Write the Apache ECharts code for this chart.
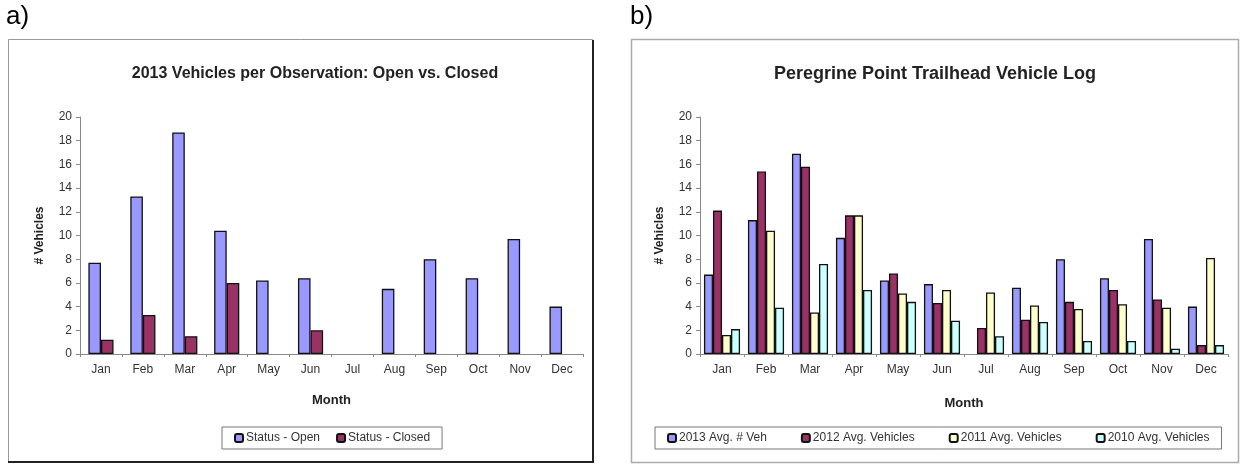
<!DOCTYPE html>
<html>
<head>
<meta charset="utf-8">
<script src="https://cdn.jsdelivr.net/npm/echarts@6/dist/echarts.min.js"></script>
<style>
  html, body { margin: 0; padding: 0; background: #fff; }
  #chart { width: 1240px; height: 464px; }
</style>
</head>
<body>
<div id="chart"></div>
<script>
var myChart = echarts.init(document.getElementById('chart'));

// months on both panels
var months = ['Jan', 'Feb', 'Mar', 'Apr', 'May', 'Jun', 'Jul', 'Aug', 'Sep', 'Oct', 'Nov', 'Dec'];

// a) 2013 open vs closed
var statusOpen = [7.7, 13.3, 18.7, 10.4, 6.2, 6.4, null, 5.5, 8.0, 6.4, 9.7, 4.0];
var statusClosed = [1.2, 3.3, 1.5, 6.0, null, 2.0, null, null, null, null, null, null];

// b) trailhead log by year
var avg2013 = [6.7, 11.3, 16.9, 9.8, 6.2, 5.9, null, 5.6, 8.0, 6.4, 9.7, 4.0];
var avg2012 = [12.1, 15.4, 15.8, 11.7, 6.8, 4.3, 2.2, 2.9, 4.4, 5.4, 4.6, 0.75];
var avg2011 = [1.6, 10.4, 3.5, 11.7, 5.1, 5.4, 5.2, 4.1, 3.8, 4.2, 3.9, 8.1];
var avg2010 = [2.1, 3.9, 7.6, 5.4, 4.4, 2.8, 1.5, 2.7, 1.1, 1.1, 0.45, 0.75];

var yTicks = { min: 0, max: 20, interval: 2 };

var font = 'Liberation Sans, Arial, sans-serif';

function valueAxis(idx) {
    return {
        gridIndex: idx,
        type: 'value',
        min: yTicks.min,
        max: yTicks.max,
        interval: yTicks.interval,
        name: '# Vehicles',
        nameLocation: 'middle',
        nameRotate: 90,
        nameGap: 34,
        nameTextStyle: { fontFamily: font, fontSize: 12, fontWeight: 'bold', color: '#222' },
        axisLine: { show: true, lineStyle: { color: '#888' } },
        axisTick: { show: true, length: 4, lineStyle: { color: '#888' } },
        axisLabel: { fontFamily: font, fontSize: 12, color: '#333', margin: 8 },
        splitLine: { show: false }
    };
}

function catAxis(idx) {
    return {
        gridIndex: idx,
        type: 'category',
        data: months,
        name: 'Month',
        nameLocation: 'middle',
        nameGap: idx === 0 ? 40 : 43,
        nameTextStyle: { fontFamily: font, fontSize: 13, fontWeight: 'bold', color: '#222' },
        axisLine: { lineStyle: { color: '#888' } },
        axisTick: { show: true, length: 3, lineStyle: { color: '#888' } },
        axisLabel: { fontFamily: font, fontSize: 12, color: '#333', margin: 10 }
    };
}

function barSeries(name, data, color, idx, catGap) {
    return {
        name: name,
        type: 'bar',
        xAxisIndex: idx,
        yAxisIndex: idx,
        data: data,
        barGap: '0%',
        barCategoryGap: catGap,
        itemStyle: { color: color, borderColor: '#111', borderWidth: 1.3 }
    };
}

myChart.setOption({
    animation: false,
    backgroundColor: '#fff',
    title: [
        {
            text: '2013 Vehicles per Observation: Open vs. Closed',
            left: 310, top: 61, textAlign: 'center',
            textStyle: { fontFamily: font, fontSize: 16, fontWeight: 'bold', color: '#222' }
        },
        {
            text: 'Peregrine Point Trailhead Vehicle Log',
            left: 930, top: 60, textAlign: 'center',
            textStyle: { fontFamily: font, fontSize: 18, fontWeight: 'bold', color: '#222' }
        }
    ],
    graphic: [
        { type: 'text', left: 6, top: 4, style: { text: 'a)', font: '26px ' + font, fill: '#000' } },
        { type: 'text', left: 630, top: 4, style: { text: 'b)', font: '26px ' + font, fill: '#000' } },
        { type: 'rect', shape: { x: 8.5, y: 39.5, width: 584, height: 422 }, style: { fill: 'none', stroke: '#999', lineWidth: 1 }, z: -1 },
        { type: 'polyline', shape: { points: [[593, 40], [593, 462], [8, 462]] }, style: { fill: 'none', stroke: '#222', lineWidth: 2 }, z: -1 },
        { type: 'rect', shape: { x: 631.5, y: 39.5, width: 607, height: 423 }, style: { fill: 'none', stroke: '#aaa', lineWidth: 1.5 }, z: -1 }
    ],
    legend: [
        {
            data: ['Status - Open', 'Status - Closed'],
            left: 222, top: 427,
            itemWidth: 8, itemHeight: 8, itemGap: 16,
            padding: [5, 12],
            borderColor: '#777', borderWidth: 1,
            textStyle: { fontFamily: font, fontSize: 12, color: '#333', padding: [0, 0, 0, -2] }
        },
        {
            data: ['2013 Avg. # Veh', '2012 Avg. Vehicles', '2011 Avg. Vehicles', '2010 Avg. Vehicles'],
            left: 655, top: 427,
            itemWidth: 8, itemHeight: 8, itemGap: 34,
            padding: [5, 12],
            borderColor: '#777', borderWidth: 1,
            textStyle: { fontFamily: font, fontSize: 12, color: '#333', padding: [0, 0, 0, -2] }
        }
    ],
    grid: [
        { left: 80, top: 117, width: 503, height: 237 },
        { left: 700, top: 117, width: 528, height: 237 }
    ],
    xAxis: [catAxis(0), catAxis(1)],
    yAxis: [valueAxis(0), valueAxis(1)],
    series: [
        barSeries('Status - Open', statusOpen, '#9999ff', 0, '40%'),
        barSeries('Status - Closed', statusClosed, '#993366', 0, '40%'),
        barSeries('2013 Avg. # Veh', avg2013, '#9999ff', 1, '18%'),
        barSeries('2012 Avg. Vehicles', avg2012, '#993366', 1, '18%'),
        barSeries('2011 Avg. Vehicles', avg2011, '#ffffcc', 1, '18%'),
        barSeries('2010 Avg. Vehicles', avg2010, '#ccffff', 1, '18%')
    ]
});
</script>
</body>
</html>
